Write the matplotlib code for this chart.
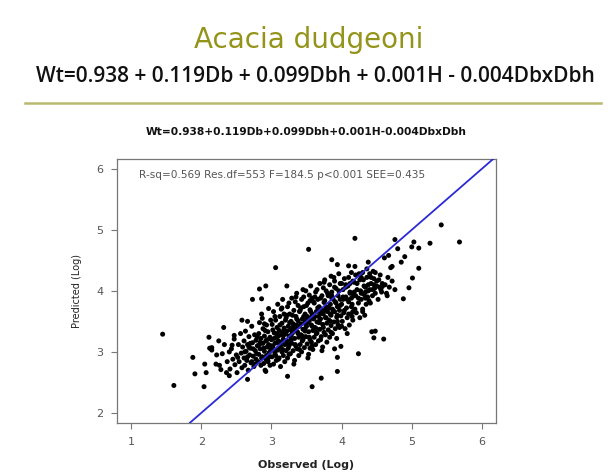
import matplotlib
matplotlib.use("Agg")
import matplotlib.pyplot as plt

# observed vs predicted (log) biomass
obs_out = [1.45, 1.61, 1.88, 1.91, 2.04, 2.05, 2.07, 2.11, 2.15, 2.15,
           2.21, 2.26, 2.32, 2.30, 2.36, 3.06, 3.53, 4.19, 4.76, 5.03,
           5.42, 5.68, 5.26, 5.00, 5.10, 4.80, 5.10, 5.01, 4.96, 4.88,
           4.60, 4.24, 3.94, 3.71, 3.58, 3.23, 2.92, 2.66, 3.86, 3.94,
           4.10, 4.19, 4.38, 4.61, 4.67, 4.90, 4.85, 4.72, 4.46, 4.48,
           4.43, 3.94, 3.99, 3.90, 2.86, 2.73, 2.83, 2.92, 3.22, 4.70,
           4.65, 4.58, 2.58, 2.47, 2.44, 2.40, 2.12]
pred_out = [3.29, 2.45, 2.91, 2.64, 2.43, 2.80, 2.66, 3.24, 3.07, 3.03,
            2.80, 2.78, 3.40, 2.97, 2.66, 4.38, 4.68, 4.86, 4.84, 4.80,
            5.08, 4.80, 4.78, 4.72, 4.70, 4.69, 4.37, 4.21, 4.05, 3.87,
            3.21, 2.97, 2.68, 2.57, 2.43, 2.60, 2.68, 2.55, 4.51, 4.43,
            4.41, 4.40, 4.47, 4.54, 4.58, 4.56, 4.47, 4.40, 3.23, 3.34,
            3.33, 2.91, 3.09, 3.05, 3.87, 3.86, 4.03, 4.08, 4.08, 4.38,
            3.92, 4.07, 3.52, 3.27, 3.11, 3.00, 3.06]

obs_low = [2.22, 2.28, 2.33, 2.37, 2.40, 2.25,
           2.41, 2.43, 2.45, 2.47, 2.48, 2.50, 2.51, 2.53, 2.54, 2.56,
           2.57, 2.58, 2.59, 2.52,
           2.61, 2.61, 2.62, 2.63, 2.64, 2.65, 2.66, 2.67, 2.68, 2.69,
           2.70, 2.71, 2.72, 2.73, 2.74, 2.75, 2.76, 2.77, 2.78, 2.78,
           2.79, 2.68, 2.72, 2.66,
           2.80, 2.81, 2.82, 2.82, 2.83, 2.84, 2.85, 2.85, 2.86, 2.87,
           2.88, 2.88, 2.89, 2.90, 2.90, 2.91, 2.92, 2.93, 2.93, 2.94,
           2.95, 2.95, 2.96, 2.96, 2.97, 2.98, 2.98, 2.99, 2.99, 2.84,
           2.92, 2.87]
pred_low = [2.95, 2.71, 3.12, 2.84, 2.61, 3.18,
            2.72, 3.05, 2.88, 3.21, 2.79, 2.95, 2.66, 3.12, 2.84, 3.30,
            2.98, 2.74, 3.08, 2.91,
            2.90, 3.18, 2.78, 3.34, 3.01, 2.86, 3.12, 2.70, 3.25, 2.95,
            3.06, 2.82, 3.42, 3.15, 2.93, 2.76, 3.28, 3.02, 2.88, 3.19,
            2.97, 3.08, 2.84, 3.50,
            3.10, 2.84, 3.30, 2.96, 3.48, 3.05, 2.78, 3.22, 3.62, 2.92,
            3.14, 3.38, 2.81, 3.01, 3.26, 2.70, 3.18, 3.44, 2.94, 3.08,
            2.86, 3.33, 3.71, 3.12, 2.99, 3.24, 2.78, 3.52, 3.04, 3.16,
            2.88, 3.55]

obs_mid = [3.00, 3.01, 3.01, 3.02, 3.03, 3.03, 3.04, 3.05, 3.05, 3.06,
           3.07, 3.07, 3.08, 3.09, 3.09, 3.10, 3.11, 3.11, 3.12, 3.13,
           3.13, 3.14, 3.15, 3.15, 3.16, 3.17, 3.17, 3.18, 3.18, 3.19,
           3.19, 3.10, 3.04, 3.14, 3.08, 3.16,
           3.20, 3.21, 3.21, 3.22, 3.23, 3.23, 3.24, 3.25, 3.25, 3.26,
           3.27, 3.27, 3.28, 3.29, 3.29, 3.30, 3.31, 3.31, 3.32, 3.33,
           3.33, 3.34, 3.35, 3.35, 3.36, 3.37, 3.37, 3.38, 3.38, 3.39,
           3.39, 3.30, 3.24, 3.34, 3.28, 3.36, 3.22, 3.32,
           3.40, 3.41, 3.41, 3.42, 3.43, 3.43, 3.44, 3.45, 3.45, 3.46,
           3.47, 3.47, 3.48, 3.49, 3.49, 3.50, 3.51, 3.51, 3.52, 3.53,
           3.53, 3.54, 3.55, 3.55, 3.56, 3.57, 3.57, 3.58, 3.58, 3.59,
           3.59, 3.50, 3.44, 3.54, 3.48, 3.56, 3.42, 3.52, 3.46, 3.58]
pred_mid = [3.20, 2.92, 3.45, 3.08, 3.66, 2.80, 3.31, 3.14, 2.98, 3.52,
            3.24, 2.86, 3.40, 3.03, 3.78, 3.18, 2.90, 3.35, 3.58, 3.10,
            2.76, 3.28, 3.47, 3.00, 3.86, 3.21, 2.94, 3.39, 3.62, 3.12,
            2.84, 3.26, 3.02, 3.70, 3.15, 3.33,
            3.30, 3.02, 3.56, 3.18, 3.74, 2.90, 3.42, 3.26, 3.10, 3.62,
            3.36, 2.97, 3.50, 3.14, 3.88, 3.31, 3.02, 3.46, 3.68, 3.22,
            2.86, 3.40, 3.58, 3.09, 3.96, 3.33, 3.05, 3.51, 3.76, 3.24,
            2.94, 3.40, 3.15, 3.82, 3.27, 3.44, 3.60, 2.80,
            3.42, 3.12, 3.68, 3.28, 3.86, 3.00, 3.54, 3.37, 3.20, 3.74,
            3.47, 3.07, 3.62, 3.25, 4.00, 3.42, 3.13, 3.58, 3.80, 3.33,
            2.96, 3.51, 3.69, 3.20, 4.08, 3.44, 3.16, 3.62, 3.88, 3.35,
            3.04, 3.52, 3.26, 3.93, 3.38, 3.56, 3.72, 2.90, 3.90, 3.10]

obs_high = [3.60, 3.61, 3.61, 3.62, 3.63, 3.63, 3.64, 3.65, 3.65, 3.66,
            3.67, 3.67, 3.68, 3.69, 3.69, 3.70, 3.71, 3.71, 3.72, 3.73,
            3.73, 3.74, 3.75, 3.75, 3.76, 3.77, 3.77, 3.78, 3.78, 3.79,
            3.79, 3.70, 3.64, 3.74, 3.68, 3.76, 3.62, 3.72,
            3.80, 3.81, 3.81, 3.82, 3.83, 3.83, 3.84, 3.85, 3.85, 3.86,
            3.87, 3.87, 3.88, 3.89, 3.89, 3.90, 3.91, 3.91, 3.92, 3.93,
            3.93, 3.94, 3.95, 3.95, 3.96, 3.97, 3.97, 3.98, 3.98, 3.99,
            3.84, 3.90, 3.94, 3.86,
            4.00, 4.01, 4.02, 4.03, 4.04, 4.05, 4.06, 4.07, 4.08, 4.09,
            4.10, 4.11, 4.12, 4.13, 4.14, 4.15, 4.16, 4.17, 4.18, 4.19,
            4.02, 4.08, 4.12, 4.16, 4.06, 4.14, 4.10, 4.18,
            4.20, 4.21, 4.22, 4.24, 4.25, 4.26, 4.27, 4.28, 4.30, 4.31,
            4.32, 4.33, 4.34, 4.35, 4.36, 4.37, 4.38, 4.39, 4.28, 4.34,
            4.40, 4.41, 4.42, 4.44, 4.45, 4.46, 4.48, 4.50, 4.52, 4.54,
            4.55, 4.57, 4.58, 4.47,
            4.62, 4.64, 4.66, 4.68, 4.72, 4.76]
pred_high = [3.54, 3.24, 3.80, 3.40, 3.98, 3.12, 3.66, 3.49, 3.31, 3.86,
             3.58, 3.18, 3.74, 3.37, 4.12, 3.54, 3.25, 3.70, 3.92, 3.45,
             3.08, 3.62, 3.81, 3.32, 4.18, 3.56, 3.28, 3.74, 4.00, 3.47,
             3.16, 3.63, 3.38, 4.05, 3.50, 3.68, 3.90, 3.02,
             3.66, 3.36, 3.92, 3.52, 4.10, 3.24, 3.78, 3.60, 3.43, 3.98,
             3.70, 3.30, 3.86, 3.49, 4.22, 3.66, 3.38, 3.82, 4.04, 3.57,
             3.22, 3.74, 3.92, 3.44, 4.28, 3.68, 3.40, 3.86, 4.12, 3.59,
             3.62, 4.16, 3.50, 3.88,
             3.78, 3.50, 4.02, 3.64, 4.20, 3.38, 3.90, 3.72, 3.56, 4.08,
             3.82, 3.44, 3.96, 3.62, 4.30, 3.78, 3.52, 3.92, 4.14, 3.70,
             3.86, 3.30, 4.12, 3.66, 4.06, 3.88, 3.62, 3.98,
             3.92, 3.64, 4.12, 3.80, 4.28, 3.56, 4.00, 3.86, 3.70, 4.18,
             3.94, 3.60, 4.06, 3.78, 4.36, 3.90, 4.10, 3.84, 4.22, 3.98,
             4.02, 3.80, 4.22, 3.92, 4.32, 4.10, 3.96, 4.16, 3.86, 4.06,
             4.26, 3.98, 4.12, 4.04,
             4.10, 3.96, 4.22, 4.06, 4.16, 4.02]

# extra points inside the densest part of the cloud
obs_core = [2.62, 2.66, 2.70, 2.74, 2.77, 2.80, 2.83, 2.86, 2.89, 2.91,
            2.94, 2.97, 3.00, 3.02, 3.04, 3.06, 3.08, 3.10, 3.12, 3.14,
            3.16, 3.18, 3.20, 3.22, 3.24, 3.26, 3.28, 3.30, 3.32, 3.34,
            3.36, 3.38, 3.40, 3.42, 3.44, 3.46, 3.48, 3.50, 3.52, 3.54,
            3.56, 3.58, 3.60, 3.62, 3.64, 3.66, 3.68, 3.70, 3.72, 3.74,
            3.76, 3.78, 3.80, 3.82, 3.84, 3.86, 3.88, 3.90, 3.92, 3.94,
            3.96, 3.98, 4.00, 4.02, 4.04, 4.06, 4.08, 4.10, 4.12, 4.14,
            4.16, 4.18, 4.20, 4.22, 4.24, 4.26, 4.28, 4.30, 4.32, 4.34,
            4.36, 4.38, 4.40, 4.42, 4.44, 4.46, 4.48, 4.50, 4.53, 4.56,
            2.90, 3.05, 3.15, 3.25, 3.35, 3.45, 3.55, 3.65, 3.75, 3.85,
            2.95, 3.10, 3.25, 3.40, 3.55, 3.70, 3.85, 4.00, 4.15, 4.30]
pred_core = [3.00, 2.92, 3.14, 3.05, 2.80, 3.24, 3.12, 2.90, 3.06, 3.35,
             3.20, 2.92, 3.10, 3.36, 3.22, 2.94, 3.30, 3.06, 3.44, 3.16,
             3.04, 3.28, 3.52, 3.34, 3.06, 3.48, 3.20, 3.60, 3.36, 3.12,
             3.54, 3.30, 3.66, 3.46, 3.18, 3.58, 3.34, 3.76, 3.48, 3.24,
             3.66, 3.42, 3.82, 3.58, 3.30, 3.72, 3.48, 3.88, 3.64, 3.40,
             3.84, 3.56, 3.96, 3.72, 3.50, 3.92, 3.66, 4.06, 3.80, 3.60,
             4.00, 3.76, 4.12, 3.90, 3.68, 4.10, 3.86, 4.22, 3.98, 3.74,
             4.16, 3.92, 4.26, 4.02, 3.88, 4.18, 3.96, 4.30, 4.08, 3.88,
             4.22, 4.00, 4.28, 4.12, 4.02, 4.20, 4.30, 4.08, 4.18, 4.02,
             3.46, 3.58, 3.72, 3.80, 3.90, 4.02, 3.84, 4.02, 4.14, 4.24,
             2.84, 2.88, 2.96, 3.04, 3.06, 3.20, 3.32, 3.42, 3.58, 3.66]

TITLE = "Acacia dudgeoni"
EQUATION = "Wt=0.938 + 0.119Db + 0.099Dbh + 0.001H - 0.004DbxDbh"
PLOT_TITLE = "Wt=0.938+0.119Db+0.099Dbh+0.001H-0.004DbxDbh"
STATS = "R-sq=0.569 Res.df=553 F=184.5 p<0.001 SEE=0.435"

OLIVE = "#94941a"
GREY = "#555555"

fig = plt.figure(figsize=(6.13, 4.75), dpi=100)
fig.text(0.503, 0.915, TITLE, ha="center", va="center", fontsize=20,
         color=OLIVE, family="DejaVu Sans", fontweight="medium")
fig.text(0.514, 0.838, EQUATION, ha="center", va="center", fontsize=15,
         fontweight="semibold", family="Open Sans", color="#111111")
fig.add_artist(plt.Line2D([0.04, 0.98], [0.783, 0.783], color="#b9b96e", lw=1.8))

ax = fig.add_axes([0.1909, 0.1101, 0.6182, 0.5552])
obs = obs_out + obs_low + obs_mid + obs_high + obs_core
pred = pred_out + pred_low + pred_mid + pred_high + pred_core
ax.scatter(obs, pred, s=13, color="black", edgecolors="none", zorder=2)
ax.axline((0, 0), slope=1, color="#2a2ad6", lw=1.3, zorder=3)

ax.set_xlim(0.8, 6.2)
ax.set_ylim(1.84, 6.16)
ax.set_xticks([1, 2, 3, 4, 5, 6])
ax.set_yticks([2, 3, 4, 5, 6])
for sp in ax.spines.values():
    sp.set_color("#777777")
    sp.set_linewidth(0.9)
ax.tick_params(direction="out", length=4, width=0.8, color="#777777",
               labelcolor=GREY, labelsize=8, pad=6)
ax.set_xlabel("Observed (Log)", fontsize=8, fontweight="bold", color="#222222",
              labelpad=10)
ax.set_ylabel("Predicted (Log)", fontsize=7, color="#222222", labelpad=10)
ax.set_title(PLOT_TITLE, fontsize=7.7, fontweight="bold", color="#111111", pad=17)
ax.text(0.058, 0.938, STATS, transform=ax.transAxes, fontsize=7.6, color=GREY,
        ha="left", va="center")

fig.savefig("out.png", dpi=100)
